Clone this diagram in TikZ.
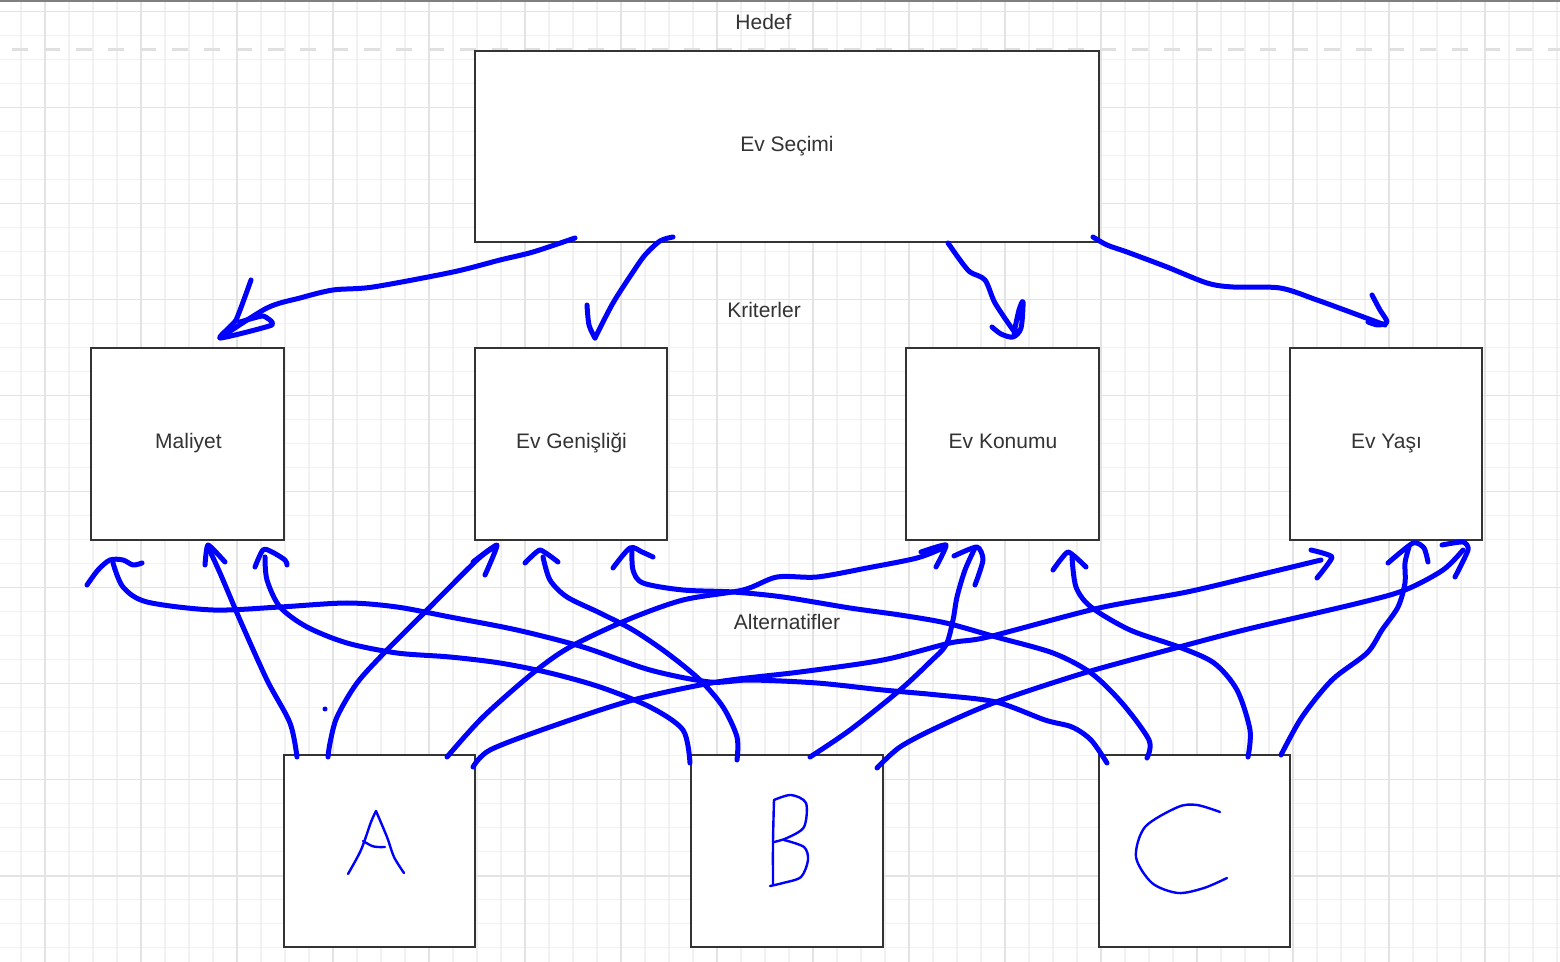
\documentclass[tikz,border=0pt]{standalone}
\usepackage{fontspec}
\setmainfont{Liberation Sans}
\definecolor{boxline}{HTML}{333333}
\definecolor{txt}{HTML}{333333}
\definecolor{gminor}{HTML}{F1F1F1}
\definecolor{gmajor}{HTML}{E3E3E3}
\definecolor{dashc}{HTML}{E0E0E0}
\definecolor{topline}{HTML}{808080}
\definecolor{ink}{RGB}{0,0,255}
\tikzset{
  box/.style={draw=boxline, line width=1pt, fill=white, inner sep=0pt},
  lbl/.style={inner sep=0pt, anchor=base, font=\fontsize{10.5}{12}\selectfont, text=txt},
  gridminor/.style={draw=gminor, line width=0.6pt},
  gridmajor/.style={draw=gmajor, line width=0.8pt},
  hand/.style={draw=ink, line width=2.5pt, line cap=round, line join=round},
  letter/.style={draw=ink, line width=1.2pt, line cap=round, line join=round},
}
\begin{document}
\begin{tikzpicture}[x=0.5pt,y=-0.5pt]
\useasboundingbox (0,0) rectangle (1560,962);
\fill[white] (0,0) rectangle (1560,962);
% grid
\foreach \i in {0,...,64} \draw[gridminor] ({21+24*\i},0) -- ({21+24*\i},962);
\foreach \i in {0,...,39} \draw[gridminor] (0,{11.7+24*\i}) -- (1560,{11.7+24*\i});
\foreach \i in {0,...,15} \draw[gridmajor] ({45+96*\i},0) -- ({45+96*\i},962);
\foreach \i in {0,...,9} \draw[gridmajor] (0,{11.7+96*\i}) -- (1560,{11.7+96*\i});
\draw[topline, line width=1pt] (0,1) -- (1560,1);
\draw[dashc, line width=1.5pt, dash pattern=on 8pt off 8pt] (12,50) -- (1560,50);
% boxes
\node[box, minimum width=312pt, minimum height=95.5pt] (goal) at (787,146.5) {};
\node[lbl] (goalt) at (787,151.5) {Ev Seçimi};
\node[box, minimum width=96.5pt, minimum height=96pt] (c1) at (187.5,444) {};
\node[box, minimum width=96pt, minimum height=96pt] (c2) at (571,444) {};
\node[box, minimum width=96.5pt, minimum height=96pt] (c3) at (1002.5,444) {};
\node[box, minimum width=96pt, minimum height=96pt] (c4) at (1386,444) {};
\node[lbl] (c1t) at (188.5,448.3) {Maliyet};
\node[lbl] (c2t) at (571.5,448.3) {Ev Genişliği};
\node[lbl] (c3t) at (1003,448.3) {Ev Konumu};
\node[lbl] (c4t) at (1386.5,448.3) {Ev Yaşı};
\node[box, minimum width=95.5pt, minimum height=96pt] (a1) at (379.5,851) {};
\node[box, minimum width=96pt, minimum height=96pt] (a2) at (787,851) {};
\node[box, minimum width=95.5pt, minimum height=96pt] (a3) at (1194.5,851) {};
\node[lbl] (hedef) at (763.5,29.8) {Hedef};
\node[lbl] (krit) at (764,317.5) {Kriterler};
\node[lbl] (alt) at (787,629.5) {Alternatifler};
% top arrows
\draw[hand] plot[smooth] coordinates {(575,238) (533,252) (500,260) (453,272) (373,287) (333,290) (300,298) (267,308) (220,338)};
\draw[hand] plot[smooth,tension=0.3] coordinates {(251,280) (236,320) (220,338) (272,325) (263,316) (240,322)};
\draw[hand] plot[smooth] coordinates {(673,237) (660,241) (645,255) (633,272) (613,303) (595,338)};
\draw[hand] plot[smooth] coordinates {(587,305) (589,325) (595,338)};
\draw[hand] plot[smooth] coordinates {(948,243) (960,260) (970,272) (985,280) (995,303) (1013,330)};
\draw[hand] plot[smooth] coordinates {(992,327) (1001,334) (1013,337) (1021,328) (1023,302) (1019,310) (1014,333)};
\draw[hand] plot[smooth] coordinates {(1093,237) (1107,245) (1127,252) (1167,267) (1207,283) (1233,287) (1280,288) (1317,300) (1350,312) (1385,325)};
\draw[hand] plot[smooth] coordinates {(1372,295) (1380,310) (1387,322) (1378,325) (1368,322)};
% bottom arrows
% A -> Maliyet
\draw[hand] plot[smooth] coordinates {(297,757) (290,723) (267,680) (240,620) (220,573) (208,547)};
\draw[hand] plot[smooth,tension=0.3] coordinates {(205,565) (208,545) (225,562)};
% A -> Ev Genisligi
\draw[hand] plot[smooth] coordinates {(328,757) (330,743) (337,717) (357,683) (387,650) (427,610) (477,560) (493,548)};
\draw[hand] plot[smooth,tension=0.3] coordinates {(473,562) (497,545) (485,575)};
% A -> Ev Konumu
\draw[hand] plot[smooth] coordinates {(447,757) (483,717) (533,673) (570,647) (627,620) (683,600) (743,590) (777,577) (817,577) (867,568) (917,558) (943,548)};
\draw[hand] plot[smooth,tension=0.3] coordinates {(921,552) (946,545) (936,567)};
% A -> Ev Yasi
\draw[hand] plot[smooth] coordinates {(473,767) (490,750) (550,727) (633,700) (717,682) (800,672) (883,660) (950,643) (988,637) (1099,608) (1187,592) (1267,573) (1321,560)};
\draw[hand] plot[smooth,tension=0.3] coordinates {(1311,550) (1332,557) (1317,578)};
% C -> Maliyet
\draw[hand] plot[smooth] coordinates {(1107,763) (1091,740) (1072,727) (1045,720) (996,702) (938,695) (883,690) (817,683) (750,680) (710,682) (650,670) (583,647) (517,630) (450,617) (397,607) (347,603) (280,607) (213,610) (147,602) (123,587) (113,563)};
\draw[hand] plot[smooth] coordinates {(87,585) (98,570) (110,560) (123,560) (133,565) (142,563)};
% B -> Maliyet
\draw[hand] plot[smooth] coordinates {(690,763) (683,730) (650,707) (600,687) (550,673) (500,663) (450,657) (397,653) (347,643) (307,627) (280,607) (267,580) (265,557)};
\draw[hand] plot[smooth] coordinates {(255,567) (263,550) (272,552) (285,560) (287,565)};
% B -> Ev Genisligi
\draw[hand] plot[smooth] coordinates {(737,760) (737,737) (723,707) (700,680) (667,653) (633,630) (600,613) (567,597) (550,580) (543,557)};
\draw[hand] plot[smooth,tension=0.3] coordinates {(525,563) (540,550) (558,562)};
% C -> Ev Genisligi
\draw[hand] plot[smooth] coordinates {(1147,758) (1149,740) (1122,703) (1091,673) (1053,653) (996,637) (946,623) (900,615) (850,608) (783,597) (733,592) (683,590) (643,583) (633,570) (632,550)};
\draw[hand] plot[smooth] coordinates {(613,568) (630,548) (642,552) (653,557)};
% B -> Ev Konumu
\draw[hand] plot[smooth] coordinates {(810,757) (850,730) (900,690) (930,662) (946,645) (953,620) (957,597) (965,570) (975,548)};
\draw[hand] plot[smooth,tension=0.4] coordinates {(954,556) (977,547) (983,560) (975,585)};
% B -> Ev Yasi
\draw[hand] plot[smooth] coordinates {(877,768) (900,747) (938,727) (996,702) (1084,673) (1168,650) (1244,630) (1359,603) (1405,590) (1443,570) (1463,550)};
\draw[hand] plot[smooth,tension=0.4] coordinates {(1442,545) (1463,542) (1468,550) (1455,577)};
% C -> Ev Konumu
\draw[hand] plot[smooth] coordinates {(1248,757) (1250,730) (1237,690) (1214,663) (1179,647) (1130,630) (1091,607) (1076,587) (1072,557)};
\draw[hand] plot[smooth,tension=0.3] coordinates {(1053,570) (1068,552) (1086,567)};
% C -> Ev Yasi
\draw[hand] plot[smooth] coordinates {(1281,755) (1302,717) (1332,680) (1367,653) (1382,630) (1398,607) (1405,583) (1405,563) (1409,547)};
\draw[hand] plot[smooth,tension=0.4] coordinates {(1388,563) (1413,543) (1424,548) (1428,562)};
% dot
\fill[ink] (325,709) circle (2.5);
% letters
\draw[letter] plot[smooth] coordinates {(348,874) (361,850) (371,822) (376,811)};
\draw[letter] plot[smooth] coordinates {(376,811) (387,837) (394,857) (404,873)};
\draw[letter] plot[smooth] coordinates {(363,841) (372,846) (378,847) (385,847)};
\draw[letter] plot[smooth] coordinates {(773,884) (773,842) (774,800)};
\draw[letter] plot[smooth] coordinates {(774,800) (791,795) (806,803) (804,827) (787,838) (774,842)};
\draw[letter] plot[smooth] coordinates {(784,840) (804,847) (808,860) (801,877) (783,883) (770,886)};
\draw[letter] plot[smooth] coordinates {(1220,812) (1197,805) (1178,807) (1145,827) (1136,857) (1152,883) (1178,893) (1204,888) (1227,878)};
\end{tikzpicture}
\end{document}
